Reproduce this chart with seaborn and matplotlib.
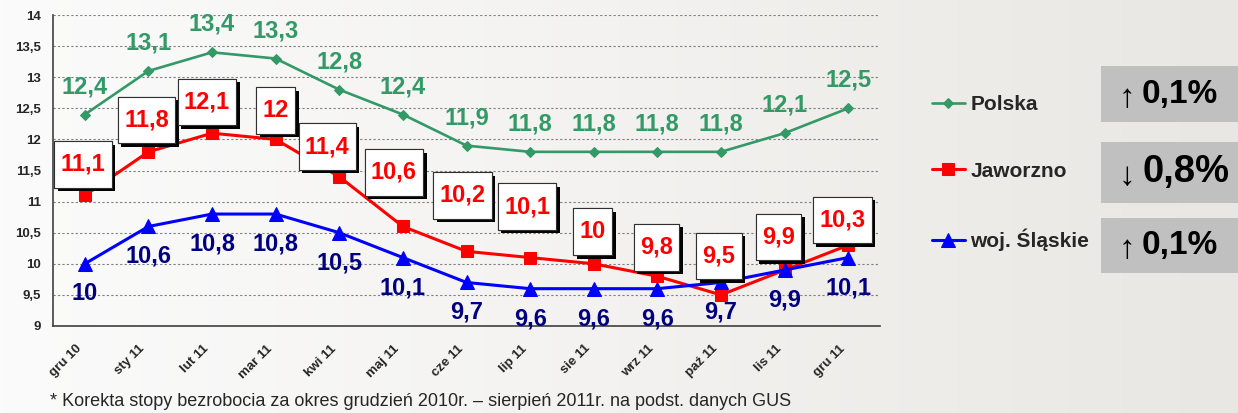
import numpy as np
import pandas as pd
import matplotlib
matplotlib.use("Agg")
import matplotlib.pyplot as plt
import matplotlib.patheffects as pe
from matplotlib.patches import Rectangle
from matplotlib.path import Path
from matplotlib.colors import LinearSegmentedColormap
from matplotlib.ticker import FuncFormatter, MultipleLocator
import seaborn as sns

# data
months = ["gru 10", "sty 11", "lut 11", "mar 11", "kwi 11", "maj 11", "cze 11",
          "lip 11", "sie 11", "wrz 11", "paź 11", "lis 11", "gru 11"]
polska = [12.4, 13.1, 13.4, 13.3, 12.8, 12.4, 11.9, 11.8, 11.8, 11.8, 11.8, 12.1, 12.5]
jaworzno = [11.1, 11.8, 12.1, 12.0, 11.4, 10.6, 10.2, 10.1, 10.0, 9.8, 9.5, 9.9, 10.3]
slaskie = [10.0, 10.6, 10.8, 10.8, 10.5, 10.1, 9.7, 9.6, 9.6, 9.6, 9.7, 9.9, 10.1]
changes = [("↑", "0,1%"), ("↓", "0,8%"), ("↑", "0,1%")]

# label placement for the Jaworzno boxes (pixels from the point)
jaw_dx = [-2, -2, -5, 0, -12, -9, -4, -3, -1, -1, -2, -6, -6]
jaw_dy = [31, 32, 31, 29, 30, 54, 56, 51, 32, 29, 39, 33, 25]

GREEN = "#339966"
RED = "#ff0000"
BLUE = "#0000ff"
NAVY = "#000080"

sns.set_style("white")
plt.rcParams["font.family"] = ["Liberation Sans", "DejaVu Sans"]

df = pd.DataFrame({"x": np.arange(len(months)), "Polska": polska,
                   "Jaworzno": jaworzno, "woj. Śląskie": slaskie})

fig = plt.figure(figsize=(12.38, 4.13), dpi=100)

# soft background gradient
bg = fig.add_axes([0, 0, 1, 1], zorder=-10)
grad = np.linspace(0, 1, 256).reshape(1, -1)
bg.imshow(grad, aspect="auto", extent=[0, 1, 0, 1],
          cmap=LinearSegmentedColormap.from_list("bg", ["#fbfbfb", "#f3f2f0", "#e9e7e3"]))
bg.axis("off")

ax = fig.add_axes([53 / 1238, 1 - 326 / 413, 827 / 1238, 311 / 413])
ax.set_facecolor("none")

sns.lineplot(data=df, x="x", y="Polska", ax=ax, color=GREEN, lw=1.9,
             marker="D", markersize=5.5, markeredgecolor=GREEN, label="Polska", zorder=3)
sns.lineplot(data=df, x="x", y="Jaworzno", ax=ax, color=RED, lw=2.2,
             marker="s", markersize=8, markeredgecolor=RED, label="Jaworzno", zorder=3)
sns.lineplot(data=df, x="x", y="woj. Śląskie", ax=ax, color=BLUE, lw=2.2,
             marker="^", markersize=10, markeredgecolor=BLUE, label="woj. Śląskie", zorder=3)

ax.set_xlim(-0.5, len(months) - 0.5)
ax.set_ylim(9, 14)
ax.yaxis.set_major_locator(MultipleLocator(0.5))
ax.yaxis.set_major_formatter(FuncFormatter(lambda v, p: f"{v:g}".replace(".", ",")))
ax.grid(axis="y", color="#7f7f7f", linestyle=(0, (2, 2)), lw=0.8)
ax.set_axisbelow(True)

# month labels sit a little left of each category centre, as in the original
ax.set_xticks(np.arange(len(months)) - 0.15)
ax.set_xticklabels(months, rotation=45, ha="right", rotation_mode="anchor",
                   fontsize=9.5, fontweight="bold")
ax.set_xticks(np.arange(-0.5, len(months)), minor=True)
ax.tick_params(axis="x", which="major", length=0, pad=12)
ax.tick_params(axis="x", which="minor", length=5, color="#404040", width=1, direction="out")
ax.tick_params(axis="y", length=5, color="#404040", width=1, direction="out", labelsize=9.5)
for t in ax.get_yticklabels():
    t.set_fontweight("bold")
ax.set_xlabel("")
ax.set_ylabel("")
for s in ["top", "right"]:
    ax.spines[s].set_visible(False)
for s in ["left", "bottom"]:
    ax.spines[s].set_color("#404040")
    ax.spines[s].set_linewidth(1.2)


def fmt(v):
    return f"{v:g}".replace(".", ",")


def tall_box(x0, y0, width, height, mutation_size):
    px, py = 0.27 * mutation_size, 0.5 * mutation_size
    x0, y0 = x0 - px, y0 - py
    x1, y1 = x0 + width + 2 * px, y0 + height + 2 * py
    return Path([(x0, y0), (x1, y0), (x1, y1), (x0, y1), (x0, y0)], closed=True)


for i, v in enumerate(polska):
    ax.annotate(fmt(v), (i, v), xytext=(0, 28), textcoords="offset pixels",
                ha="center", va="center", color=GREEN, fontsize=17, fontweight="bold")

for i, v in enumerate(slaskie):
    ax.annotate(fmt(v), (i, v), xytext=(0, -30), textcoords="offset pixels",
                ha="center", va="center", color=NAVY, fontsize=17, fontweight="bold")

for i, v in enumerate(jaworzno):
    t = ax.annotate(fmt(v), (i, v), xytext=(jaw_dx[i], jaw_dy[i]), textcoords="offset pixels",
                    ha="center", va="center", color=RED, fontsize=17, fontweight="bold",
                    bbox=dict(boxstyle=tall_box, fc="white", ec="#303030", lw=0.8),
                    zorder=5)
    t.get_bbox_patch().set_path_effects([
        pe.withSimplePatchShadow(offset=(2.5, -2.5), shadow_rgbFace="black", alpha=1.0),
        pe.Normal()])

handles, labels = ax.get_legend_handles_labels()
ax.get_legend().remove()
fig.legend(handles, labels, loc="center left", bbox_to_anchor=(913 / 1238, 1 - 173 / 413),
           frameon=False, handlelength=1.6, handletextpad=0.25, labelspacing=2.3,
           prop={"weight": "bold", "size": 15})

# change boxes on the right
boxes = [(66, 122), (142, 203), (218, 273)]
sizes = [24, 27.5, 24]
for (top, bot), (arrow, val), fs in zip(boxes, changes, sizes):
    fig.patches.append(Rectangle((1101 / 1238, 1 - bot / 413), 137 / 1238, (bot - top) / 413,
                                 transform=fig.transFigure, fc="#c0c0c0", ec="none", zorder=1))
    yc = 1 - (top + bot) / 2 / 413
    fig.text(1127 / 1238, yc - 0.01, arrow, ha="center", va="center", fontsize=24,
             color="black", zorder=2)
    fig.text(1142 / 1238, yc, val, ha="left", va="center", fontsize=fs,
             fontweight="bold", color="black", zorder=2)

fig.text(50 / 1238, 1 - 401 / 413,
         "* Korekta stopy bezrobocia za okres grudzień 2010r. – sierpień 2011r. na podst. danych GUS",
         ha="left", va="center", fontsize=13, family=["Liberation Sans Narrow", "Liberation Sans"])

fig.savefig("out.png", dpi=100)
